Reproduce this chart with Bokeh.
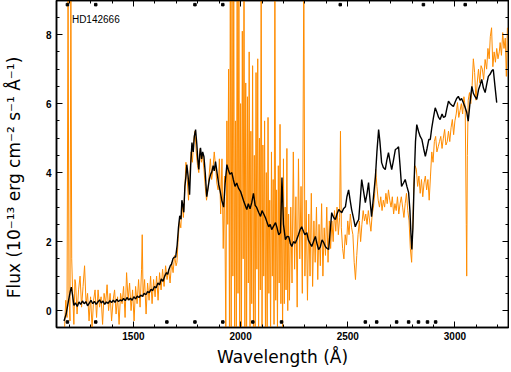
from bokeh.plotting import figure
from bokeh.models import Range1d, SingleIntervalTicker, LinearAxis, CustomJSTickFormatter, Label
from bokeh.embed import file_html
from bokeh.resources import INLINE

# ---- data ----
star_name = "HD142666"

black_wave = [1176, 1186, 1196, 1205, 1210, 1216, 1222, 1230, 1238, 1246, 1254, 1262, 1270, 1278,
              1286, 1294, 1302, 1310, 1318, 1326, 1334, 1342, 1350, 1358, 1366, 1374, 1382, 1390,
              1398, 1406, 1414, 1422, 1430, 1438, 1446, 1454, 1462, 1470, 1478, 1486, 1494, 1502,
              1510, 1518, 1526, 1534, 1542, 1550, 1558, 1566, 1574, 1582, 1590, 1598, 1606, 1614,
              1622, 1630, 1638, 1646, 1654, 1660, 1666, 1672, 1678, 1684, 1690, 1697, 1704, 1710,
              1716, 1722, 1726, 1731, 1735, 1740, 1745, 1749, 1755, 1762, 1767, 1773, 1779, 1784,
              1790, 1796, 1800, 1805, 1809, 1813, 1818, 1823, 1829, 1835, 1842, 1848, 1854, 1860,
              1866, 1872, 1877, 1883, 1890, 1898, 1905, 1912, 1921, 1928, 1936, 1942, 1950, 1959,
              1966, 1974, 1982, 1990, 2000, 2008, 2015, 2022, 2029, 2036, 2044, 2052, 2060, 2068,
              2075, 2084, 2093, 2100, 2108, 2116, 2124, 2131, 2138, 2145, 2154, 2163, 2170, 2178,
              2186, 2193, 2200, 2209, 2217, 2225, 2232, 2239, 2247, 2255, 2262, 2270, 2278, 2285,
              2293, 2300, 2309, 2316, 2324, 2332, 2340, 2349, 2356, 2364, 2372, 2380, 2388, 2396,
              2404, 2411, 2418, 2425, 2434, 2442, 2450, 2458, 2465, 2472, 2480, 2489, 2496, 2504,
              2511, 2518, 2526, 2535, 2543, 2551, 2558, 2565, 2574, 2582, 2590, 2597, 2604, 2611,
              2620, 2629, 2636, 2644, 2650, 2658, 2666, 2675, 2682, 2690, 2698, 2705, 2713, 2722,
              2730, 2737, 2744, 2751, 2760, 2768, 2776, 2784, 2790, 2795, 2799, 2804, 2810, 2816,
              2822, 2830, 2838, 2846, 2854, 2862, 2870, 2878, 2885, 2892, 2900, 2908, 2916, 2924,
              2931, 2940, 2947, 2955, 2962, 2970, 2978, 2986, 2993, 3001, 3008, 3016, 3024, 3031,
              3039, 3047, 3055, 3062, 3070, 3079, 3086, 3094, 3102, 3110, 3118, 3125, 3133, 3141,
              3148, 3156, 3164, 3172, 3179, 3187, 3195]
black_flux = [-0.30, -0.10, 0.25, 0.55, 0.68, 0.45, 0.15, 0.22, 0.12, 0.25, 0.18, 0.28, 0.20, 0.26,
              0.14, 0.22, 0.30, 0.20, 0.27, 0.18, 0.25, 0.31, 0.22, 0.28, 0.18, 0.25, 0.21, 0.29,
              0.23, 0.30, 0.24, 0.33, 0.26, 0.31, 0.28, 0.35, 0.29, 0.38, 0.31, 0.36, 0.30, 0.40,
              0.34, 0.42, 0.38, 0.45, 0.41, 0.50, 0.46, 0.55, 0.52, 0.62, 0.58, 0.70, 0.66, 0.80,
              0.75, 0.92, 0.85, 1.00, 1.10, 1.05, 1.20, 1.30, 1.35, 1.50, 1.55, 1.55, 1.90, 2.40,
              2.75, 2.65, 3.20, 3.05, 2.85, 3.60, 3.90, 4.23, 3.90, 3.36, 4.20, 4.87, 4.60, 5.05,
              5.25, 4.80, 4.40, 4.09, 4.50, 4.72, 4.40, 4.60, 4.46, 4.00, 3.30, 3.55, 3.80, 3.95,
              4.03, 4.20, 4.05, 4.32, 4.00, 3.65, 3.45, 3.20, 3.00, 3.70, 4.23, 4.10, 3.95, 4.00,
              3.80, 3.60, 3.70, 3.55, 3.45, 3.30, 3.16, 3.05, 2.93, 3.10, 2.95, 3.13, 3.40, 3.05,
              2.99, 2.85, 2.73, 2.90, 2.80, 2.69, 2.55, 2.43, 2.50, 2.35, 2.45, 2.55, 2.40, 2.20,
              2.26, 3.86, 2.50, 2.06, 2.15, 2.14, 1.95, 1.86, 2.00, 1.95, 2.06, 2.20, 2.35, 2.43,
              2.30, 2.20, 2.26, 2.05, 1.95, 1.86, 2.00, 2.15, 1.95, 1.77, 1.85, 2.05, 1.97, 1.85,
              1.80, 1.77, 2.30, 2.84, 2.70, 2.64, 2.80, 2.93, 2.88, 2.84, 2.95, 3.01, 3.30, 3.50,
              3.20, 2.93, 2.70, 2.43, 2.55, 2.64, 3.20, 3.80, 3.45, 3.13, 3.40, 3.71, 3.20, 2.72,
              3.30, 3.88, 4.60, 5.25, 4.90, 4.29, 4.15, 4.09, 4.35, 4.58, 4.30, 4.09, 4.35, 4.67,
              4.70, 4.75, 4.20, 3.60, 3.70, 3.80, 3.60, 3.42, 2.90, 2.20, 1.77, 2.40, 3.80, 4.90,
              5.39, 5.20, 5.05, 4.96, 4.70, 4.47, 4.70, 4.96, 4.96, 5.30, 5.60, 5.88, 5.75, 5.60,
              5.54, 5.70, 5.60, 5.63, 5.85, 6.07, 6.00, 5.95, 5.92, 6.05, 6.15, 6.21, 6.10, 6.15,
              6.03, 5.90, 5.75, 5.49, 6.00, 6.50, 6.30, 6.20, 6.12, 6.40, 6.55, 6.70, 6.45, 6.32,
              6.55, 6.79, 6.85, 6.95, 6.99, 6.50, 6.03]

orange_wave = [1178, 1184, 1190, 1195, 1199, 1204, 1208, 1212, 1217, 1222, 1227,
               1230, 1237, 1244, 1251, 1258, 1265, 1272, 1279, 1286, 1293, 1300, 1307, 1314, 1321,
               1328, 1335, 1342, 1349, 1356, 1363, 1370, 1377, 1384, 1391, 1398, 1405, 1412, 1419,
               1426, 1433, 1440, 1447, 1454, 1461, 1468, 1475, 1482, 1489, 1496, 1503, 1510, 1517,
               1524, 1531, 1538, 1541, 1545, 1552, 1559, 1566, 1573, 1580, 1587, 1594, 1601, 1608,
               1615, 1622, 1629, 1636, 1643, 1650, 1657, 1664, 1671, 1678, 1685, 1692, 1699,
               1703, 1709, 1715, 1721, 1727, 1733, 1739, 1745, 1751, 1757, 1763, 1769, 1775, 1781,
               1787, 1793, 1799, 1805, 1811, 1817, 1823, 1829, 1835, 1841, 1847, 1853, 1859, 1865,
               1871, 1877, 1883, 1889, 1895, 1901, 1907, 1913, 1919, 1925,
               1931, 1936, 1940, 1944, 1948, 1952, 1956, 1960, 1964, 1968, 1972, 1976, 1980, 1984,
               1988, 1992, 1996, 2000, 2004, 2008, 2012, 2016, 2020, 2024, 2028, 2032, 2036, 2040,
               2044, 2048, 2052, 2056, 2060, 2064, 2068, 2072, 2076, 2080, 2084, 2088, 2092, 2096,
               2100, 2104, 2108, 2112, 2116, 2120, 2124, 2128, 2132, 2136, 2140, 2144, 2148, 2152,
               2156, 2160, 2164, 2168, 2172, 2176, 2180, 2184, 2188, 2192, 2196, 2200, 2204, 2208,
               2212, 2216, 2220, 2224, 2228,
               2234, 2240, 2246, 2252, 2258, 2264, 2270, 2276, 2282, 2288, 2295, 2300, 2306, 2312,
               2318, 2324, 2330, 2336, 2342, 2348, 2354, 2360, 2366, 2372, 2378, 2384, 2390, 2396,
               2402, 2408, 2414, 2420,
               2426, 2432, 2438, 2444, 2450, 2456, 2462, 2466, 2470, 2476, 2482, 2488, 2494, 2500,
               2506, 2512, 2518, 2524, 2530, 2536, 2542, 2548, 2554, 2560, 2566, 2572, 2578, 2584,
               2590, 2596, 2602, 2608, 2614, 2620, 2626, 2630, 2636, 2642, 2648, 2654, 2660, 2666,
               2672, 2678, 2684, 2690, 2696, 2702, 2708, 2714, 2720, 2726, 2732, 2738, 2744, 2750,
               2756, 2762, 2768, 2774, 2780, 2786, 2792, 2798, 2803, 2808, 2814,
               2820, 2826, 2832, 2838, 2844, 2850, 2856, 2862, 2868, 2874, 2880, 2886, 2892, 2898,
               2904, 2910, 2916, 2922, 2928, 2934, 2940, 2946, 2952, 2958, 2964, 2970, 2976, 2982,
               2988, 2994, 3000, 3006, 3012, 3018, 3024, 3030, 3036, 3042, 3048, 3053, 3055, 3058,
               3062, 3068, 3074, 3080, 3086, 3092, 3098, 3104, 3110, 3116, 3122, 3128, 3134, 3141,
               3148, 3154, 3160, 3165, 3171, 3177, 3183, 3189, 3195, 3201, 3207, 3211, 3217, 3223,
               3229, 3235, 3240, 3245]
orange_flux = [-0.6, 0.3, -0.2, 9.8, 0.5, -0.3, 9.8, 1.5, 0.4, -0.4, 0.9,
               0.8, -0.1, 0.6, 1.0, 0.1, 0.7, 1.3, 0.2, 0.5, -0.3, 0.4, -0.5, 0.3, 0.6,
               -0.2, 0.6, 0.1, 0.4, -0.4, 0.5, 0.2, 0.75, 0.0, 0.5, -0.3, 0.3, 0.6, -0.1,
               0.4, -0.4, 0.5, 0.2, 0.7, -0.2, 1.1, 0.3, 0.8, 0.0, 0.6, -0.3, 0.7, 0.2,
               0.9, 0.1, 1.2, 2.2, 0.4, 0.9, -0.1, 0.8, 0.3, 1.0, 0.2, 0.9, 0.4, 1.0,
               0.3, 1.1, 0.6, 1.2, 0.7, 1.3, 0.9, 1.2, 0.8, 1.4, 1.1, 1.6, 1.3,
               1.4, 2.1, 2.6, 2.4, 3.1, 2.7, 3.4, 4.3, 3.8, 3.2, 3.9, 4.6, 4.3, 4.9,
               5.2, 4.6, 4.2, 4.0, 4.7, 4.3, 4.5, 4.1, 3.6, 3.2, 3.5, 3.9, 4.4, 3.8,
               4.1, 4.6, 4.2, 3.7, 3.5, 4.4, 2.8, 4.4, 1.8, 3.9,
               -0.6, 5.5, 2.5, 7.0, -0.6, 10.0, -0.6, 10.0, 1.0, 10.0, -0.6, 5.5, -0.6, 10.0,
               0.5, 10.0, -0.6, 6.0, -0.6, 8.1, 1.5, 10.0, -0.6, 6.6, -0.6, 6.2, 0.8, 7.5,
               -0.6, 5.2, 0.2, 7.1, -0.6, 4.5, -0.6, 6.9, 1.2, 7.3, -0.6, 5.0, 0.6, 10.0,
               -0.6, 4.8, 1.0, 5.5, -0.6, 4.0, -0.6, 5.6, 0.5, 3.2, -0.6, 4.6, 1.0, 3.8,
               -0.4, 10.0, 0.3, 3.5, -0.6, 4.2, 0.8, 5.4, 0.2, 3.6, -0.6, 4.4, 0.2, 3.0,
               0.6, 4.7, 0.0, 2.8, 0.3,
               3.0, 0.8, 4.6, 1.2, 3.3, 0.1, 4.4, 1.5, 3.6, 0.5, 10.0, 1.0, 3.2, 0.3,
               2.8, 1.0, 3.4, 0.7, 2.6, 1.4, 3.0, 0.9, 2.5, 1.3, 3.1, 1.0, 2.4, 1.6,
               3.0, 1.4, 2.6, 1.8,
               2.6, 2.0, 2.9, 2.3, 3.0, 2.2, 2.7, 5.2, 2.4, 1.8, 1.5, 2.2, 1.9, 2.6,
               2.2, 2.8, 2.4, 2.2, 1.4, 0.9, 1.6, 2.2, 2.6, 2.0, 2.5, 2.9, 2.6, 2.8,
               2.5, 2.9, 2.6, 2.3, 2.8, 3.0, 3.4, 4.1, 3.6, 3.2, 3.0, 3.3, 2.9, 3.2,
               3.0, 3.4, 3.1, 3.5, 3.2, 3.0, 3.3, 2.8, 3.1, 2.9, 3.3, 2.8, 3.1, 3.3,
               3.0, 2.7, 3.1, 3.4, 2.9, 2.6, 1.8, 1.4, 2.4, 3.6, 4.2,
               4.1, 3.6, 3.9, 3.4, 3.8, 3.3, 3.7, 3.9, 3.5, 3.8, 3.2, 3.9, 4.6, 4.3,
               4.9, 5.05, 4.6, 4.75, 4.9, 5.05, 4.7, 5.0, 5.25, 4.8, 4.9, 5.2, 4.9, 5.3,
               5.54, 5.1, 5.5, 5.7, 6.03, 5.6, 5.8, 6.0, 5.7, 6.2, 5.9, 2.5, 1.0, 4.5,
               6.1, 6.32, 6.0, 6.5, 7.3, 6.9, 6.1, 6.6, 7.0, 6.6, 7.1, 7.0, 6.7, 7.28,
               7.0, 7.6, 7.3, 7.94, 8.2, 7.07, 7.5, 7.2, 7.6, 7.3, 7.5, 7.77, 7.4, 8.06,
               7.6, 7.9, 6.79, 8.2]

flag_bottom_wave = [1192, 1324, 1656, 1787, 1917, 2057, 2191, 2582, 2635, 2728, 2784, 2830, 2872, 2910]
flag_top_wave = [1192, 1324, 1787, 1917, 2465, 2853, 3048]

x_ticks_interval = 500
y_ticks_interval = 2

# ---- figure ----
p = figure(frame_width=452, frame_height=327,
           x_range=Range1d(1141, 3250), y_range=Range1d(-0.49, 8.99),
           output_backend="svg", toolbar_location=None,
           min_border_left=50, min_border_right=1, min_border_top=0, min_border_bottom=40,
           background_fill_color="white", border_fill_color="white")
p.grid.visible = False
p.outline_line_color = "black"
p.outline_line_width = 1.5

p.line(orange_wave, orange_flux, line_color="#ff8c00", line_width=1)
p.line(black_wave, black_flux, line_color="black", line_width=1.4)

p.scatter(flag_bottom_wave, [-0.33] * len(flag_bottom_wave), marker="square", size=2.5,
          fill_color="black", line_color="black")
p.scatter(flag_top_wave, [8.87] * len(flag_top_wave), marker="square", size=2.5,
          fill_color="black", line_color="black")

p.add_layout(Label(x=1213, y=8.43, text=star_name, text_font="Liberation Sans",
                   text_font_size="10px", text_baseline="middle", text_color="black"))

xt = SingleIntervalTicker(interval=x_ticks_interval, num_minor_ticks=5)
yt = SingleIntervalTicker(interval=y_ticks_interval, num_minor_ticks=4)


def style(ax):
    ax.major_tick_in = 6
    ax.major_tick_out = 0
    ax.minor_tick_in = 3
    ax.minor_tick_out = 0
    ax.axis_line_color = "black"
    ax.axis_line_width = 1.5
    ax.major_tick_line_color = "black"
    ax.minor_tick_line_color = "black"
    ax.major_tick_line_width = 1
    ax.minor_tick_line_width = 1
    ax.major_label_text_font = "Liberation Sans"
    ax.major_label_text_font_style = "bold"
    ax.major_label_text_font_size = "10px"
    ax.major_label_text_color = "black"
    ax.axis_label_text_font = "DejaVu Sans"
    ax.axis_label_text_font_style = "normal"
    ax.axis_label_text_font_size = "17px"
    ax.axis_label_text_color = "black"


xa = p.xaxis[0]
xa.ticker = xt
style(xa)
xa.axis_label = "Wavelength (Å)"
xa.major_label_standoff = 4
xa.axis_label_standoff = 4

ya = p.yaxis[0]
ya.ticker = yt
style(ya)
ya.axis_label = "Flux  (10⁻¹³  erg  cm⁻²  s⁻¹  Å⁻¹)"
ya.major_label_standoff = 5
ya.axis_label_standoff = 19

top = LinearAxis(ticker=xt, formatter=CustomJSTickFormatter(code="return ''"))
style(top)
top.major_label_standoff = 0
p.add_layout(top, "above")
right = LinearAxis(ticker=yt, formatter=CustomJSTickFormatter(code="return ''"))
style(right)
right.major_label_standoff = 0
p.add_layout(right, "right")

open("out.html", "w").write(file_html(p, INLINE))
